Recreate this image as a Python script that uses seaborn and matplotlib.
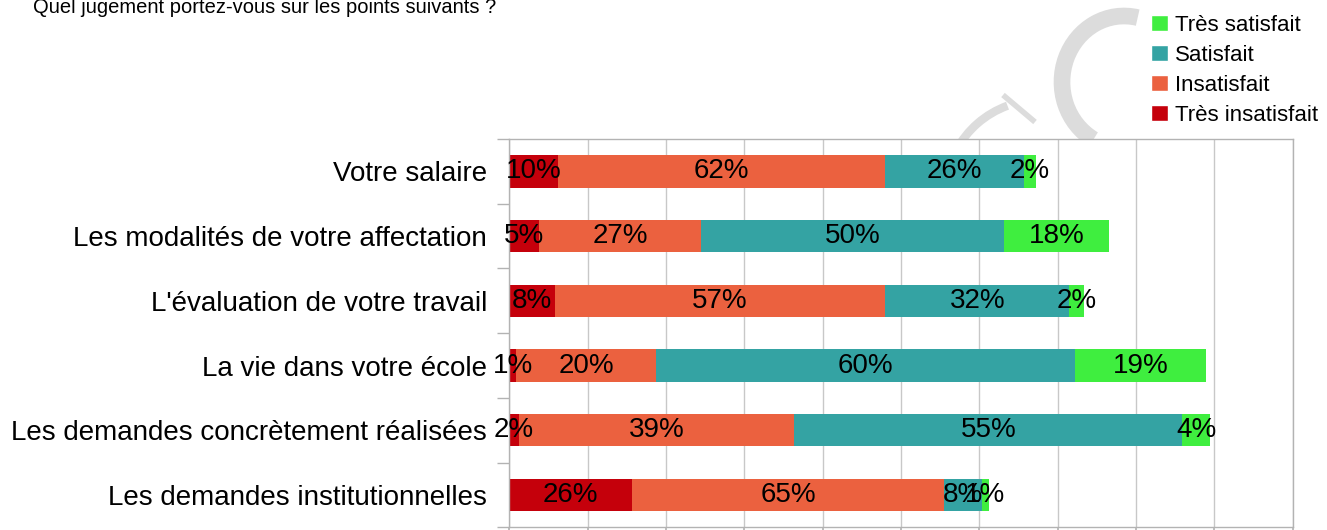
import numpy as np
import matplotlib
matplotlib.use("Agg")
import matplotlib.pyplot as plt
from matplotlib import font_manager
from matplotlib.patches import Patch, Arc
import seaborn as sns

# données (longueurs des segments, unités de l'axe 0-100)
questions = [
    "Votre salaire",
    "Les modalités de votre affectation",
    "L'évaluation de votre travail",
    "La vie dans votre école",
    "Les demandes concrètement réalisées",
    "Les demandes institutionnelles",
]
tres_insatisfait = [6.2, 3.8, 5.8, 0.9, 1.2, 15.7]
insatisfait = [41.8, 20.7, 42.2, 17.8, 35.2, 39.8]
satisfait = [17.7, 38.6, 23.5, 53.5, 49.5, 4.8]
tres_satisfait = [1.5, 13.5, 1.9, 16.8, 3.6, 0.9]

# pourcentages affichés
pct_tres_insatisfait = [10, 5, 8, 1, 2, 26]
pct_insatisfait = [62, 27, 57, 20, 39, 65]
pct_satisfait = [26, 50, 32, 60, 55, 8]
pct_tres_satisfait = [2, 18, 2, 19, 4, 1]

series = ["Très insatisfait", "Insatisfait", "Satisfait", "Très satisfait"]
couleurs = ["#c5000b", "#eb613f", "#34a3a3", "#3fee3f"]

sns.set_theme(style="white")
plt.rcParams["font.family"] = ["Liberation Sans", "DejaVu Sans"]

# titre en police étroite si disponible
noms = {f.name for f in font_manager.fontManager.ttflist}
if "Liberation Sans Narrow" in noms:
    titre_font, titre_taille = "Liberation Sans Narrow", 17.5
else:
    titre_font, titre_taille = "Liberation Sans", 14.5

fig = plt.figure(figsize=(13.27, 5.30), dpi=100)

# filigrane en arrière-plan
bg = fig.add_axes([0, 0, 1, 1], zorder=-1)
bg.set_xlim(0, 1327)
bg.set_ylim(530, 0)
bg.axis("off")
bg.add_patch(Arc((1124, 82), 2 * 62, 2 * 66, theta1=118, theta2=282,
                 color="#dcdcdc", lw=12))
bg.add_patch(Arc((1040, 195), 2 * 95, 2 * 95, theta1=208, theta2=250,
                 color="#dcdcdc", lw=6))
bg.plot([1003, 1035], [95, 122], color="#dcdcdc", lw=4, solid_capstyle="butt")

ax = fig.add_axes([0.3838, 0.0051, 0.5903, 0.7326], zorder=1)
ax.set_facecolor("white")

valeurs = np.array([tres_insatisfait, insatisfait, satisfait, tres_satisfait])
cumul = np.cumsum(valeurs, axis=0)
pcts = [pct_tres_insatisfait, pct_insatisfait, pct_satisfait, pct_tres_satisfait]

# barres empilées : on dessine les cumuls du plus long au plus court
for i in range(3, -1, -1):
    sns.barplot(
        x=cumul[i],
        y=questions,
        orient="h",
        color=couleurs[i],
        width=0.5,
        saturation=1,
        linewidth=0,
        ax=ax,
        zorder=2,
    )

for i in range(4):
    debut = cumul[i] - valeurs[i]
    for j in range(len(questions)):
        ax.text(
            debut[j] + valeurs[i][j] / 2,
            j,
            f"{pcts[i][j]}%",
            ha="center",
            va="center",
            fontsize=20,
            color="black",
            zorder=3,
        )

ax.set_xlim(0, 100)
ax.set_ylim(5.5, -0.5)
ax.set_xticks(np.arange(0, 101, 10))
ax.set_xticklabels([])
ax.grid(axis="x", color="#c8c8c8", lw=1)
ax.grid(axis="y", visible=False)
ax.set_axisbelow(True)
ax.set_xlabel("")
ax.set_ylabel("")
for s in ax.spines.values():
    s.set_color("#b3b3b3")
    s.set_linewidth(1)
ax.set_yticks(np.arange(-0.5, 6, 1), minor=True)
ax.tick_params(axis="y", which="major", length=0, pad=16, labelsize=20,
               labelcolor="black")
ax.tick_params(axis="y", which="minor", length=9, color="#b3b3b3", left=True)
ax.tick_params(axis="x", which="major", length=8, color="#b3b3b3", bottom=True)

fig.text(0.025, 1 - 12.7 / 530, "Quel jugement portez-vous sur les points suivants ?",
         fontsize=titre_taille, family=[titre_font, "DejaVu Sans"],
         va="baseline", ha="left", color="black")

handles = [Patch(facecolor=couleurs[i], label=series[i]) for i in range(3, -1, -1)]
fig.legend(
    handles=handles,
    loc="upper left",
    bbox_to_anchor=(1142 / 1327, 1 - 6 / 530),
    frameon=False,
    fontsize=16,
    handlelength=0.75,
    handleheight=0.75,
    handletextpad=0.35,
    labelspacing=0.4,
    borderaxespad=0,
    labelcolor="black",
)

plt.savefig("out.png", dpi=100)
